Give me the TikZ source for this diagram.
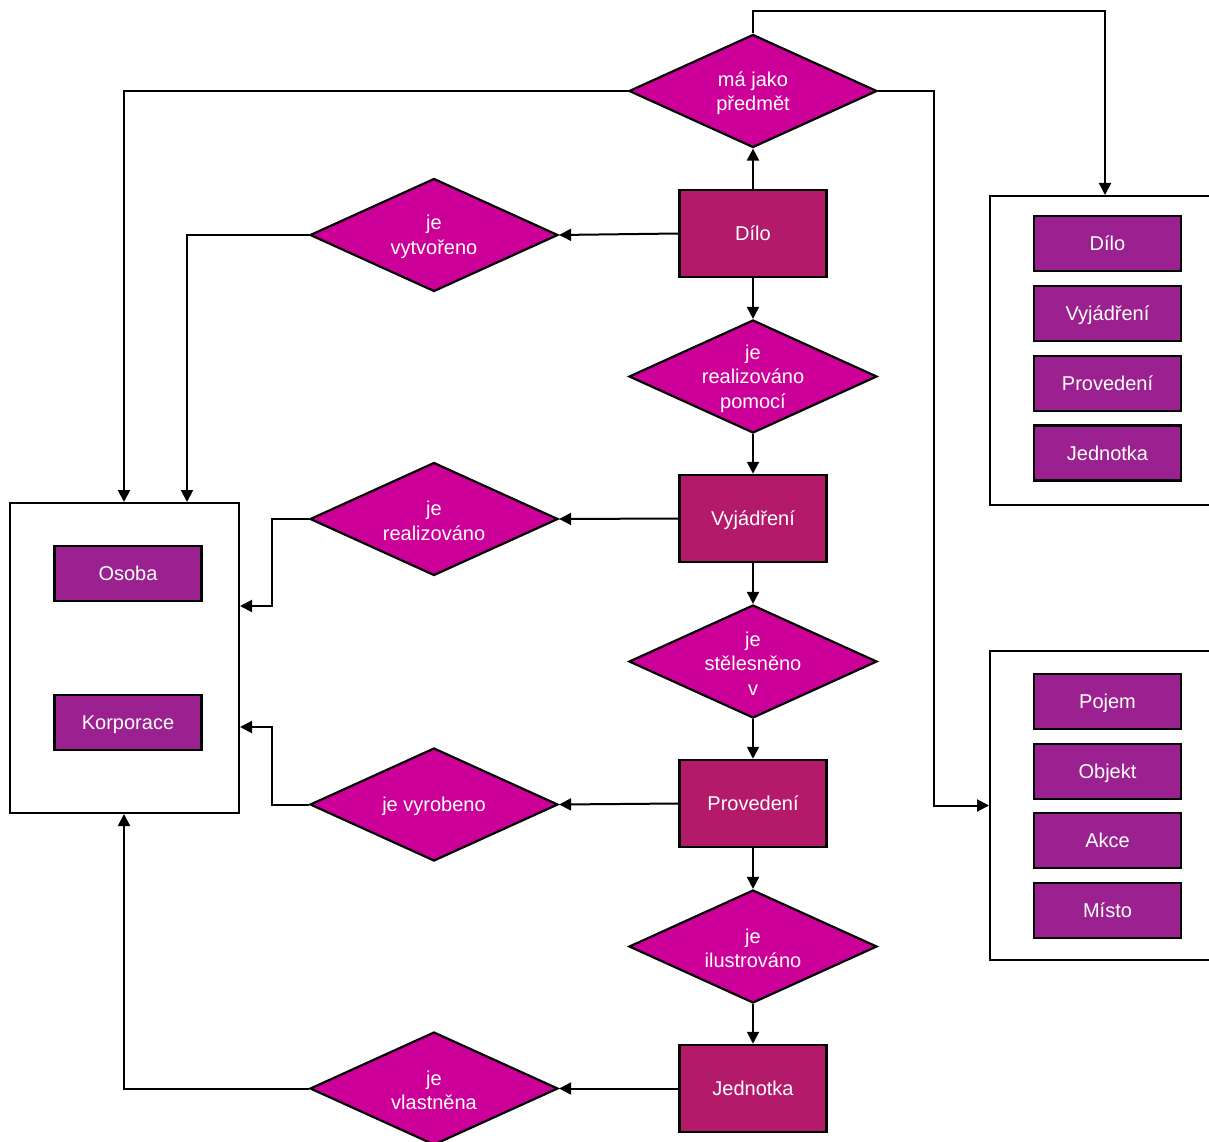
\documentclass[tikz,border=0pt]{standalone}
\usepackage{fontspec}
\setmainfont{Liberation Sans}
\usetikzlibrary{shapes.geometric,arrows.meta,calc}
\definecolor{relfill}{HTML}{CC0099}
\definecolor{mainfill}{HTML}{B41A6A}
\definecolor{itemfill}{HTML}{9C2190}
\begin{document}
\begin{tikzpicture}[x=1pt,y=-1pt,
  font=\fontsize{20}{24.5}\selectfont,
  rel/.style={shape=diamond, draw=black, line width=2.2pt, fill=relfill,
    minimum width=248pt, minimum height=113pt, inner sep=0pt},
  reltext/.style={text=white, align=center, inner sep=0pt, yshift=-2pt},
  mainbox/.style={rectangle, draw=black, line width=2.5pt, fill=mainfill,
    minimum width=147pt, minimum height=87pt, text=white,
    text height=14.4pt, text depth=0pt},
  itembox/.style={rectangle, draw=black, line width=2.5pt, fill=itemfill,
    minimum width=147pt, minimum height=55pt, text=white,
    text height=14.4pt, text depth=0pt},
  container/.style={rectangle, draw=black, line width=2pt, fill=white, inner sep=0pt},
  conn/.style={draw=black, line width=2pt, -{Triangle[length=12pt,width=12pt]}}
]
\clip (0,0) rectangle (1209,1142);
\fill[white] (0,0) rectangle (1209,1142);

% containers
\node[container, minimum width=229pt, minimum height=310pt] (lc) at (124.5,658) {};
\node[container, minimum width=230pt, minimum height=309pt] (rc1) at (1105,350.5) {};
\node[container, minimum width=230pt, minimum height=309pt] (rc2) at (1105,805.5) {};

% left container items
\node[itembox] (osoba) at (128,573.5) {Osoba};
\node[itembox] (korp) at (128,722.5) {Korporace};

% right container items
\node[itembox] (r1a) at (1107.5,243.5) {Dílo};
\node[itembox] (r1b) at (1107.5,313.5) {Vyjádření};
\node[itembox] (r1c) at (1107.5,383.5) {Provedení};
\node[itembox] (r1d) at (1107.5,453) {Jednotka};
\node[itembox] (r2a) at (1107.5,701.5) {Pojem};
\node[itembox] (r2b) at (1107.5,771.5) {Objekt};
\node[itembox] (r2c) at (1107.5,840.5) {Akce};
\node[itembox] (r2d) at (1107.5,910.5) {Místo};

% main entities
\node[mainbox] (dilo) at (753,233.5) {Dílo};
\node[mainbox] (vyj)  at (753,518.5) {Vyjádření};
\node[mainbox] (prov) at (753,803.5) {Provedení};
\node[mainbox] (jedn) at (753,1088.5) {Jednotka};

% relationships
\node[rel, label={[reltext]center:{má jako\\předmět}}] (d0) at (753,91) {};
\node[rel, label={[reltext]center:{je\\vytvořeno}}] (d1) at (434,235) {};
\node[rel, label={[reltext]center:{je\\realizováno\\pomocí}}] (d2) at (753,376.5) {};
\node[rel, label={[reltext]center:{je\\realizováno}}] (d3) at (434,519) {};
\node[rel, label={[reltext]center:{je\\stělesněno\\v}}] (d4) at (753,661.5) {};
\node[rel, label={[reltext]center:{je vyrobeno}}] (d5) at (434,804.5) {};
\node[rel, label={[reltext]center:{je\\ilustrováno}}] (d6) at (753,946.5) {};
\node[rel, label={[reltext]center:{je\\vlastněna}}] (d7) at (434,1088.5) {};

% main chain
\draw[conn] (dilo.north) -- (d0.south);
\draw[conn] (dilo.south) -- (d2.north);
\draw[conn] (d2.south) -- (vyj.north);
\draw[conn] (vyj.south) -- (d4.north);
\draw[conn] (d4.south) -- (prov.north);
\draw[conn] (prov.south) -- (d6.north);
\draw[conn] (d6.south) -- (jedn.north);

% entity to relationship
\draw[conn] (dilo.west) -- (d1.east);
\draw[conn] (vyj.west) -- (d3.east);
\draw[conn] (prov.west) -- (d5.east);
\draw[conn] (jedn.west) -- (d7.east);

% relationships to targets
\draw[conn] (d0.north) -- ++(0,-22) -| (rc1.north);
\draw[conn] (d0.west) -| ([xshift=115pt]lc.north west);
\draw[conn] (d0.east) -- ++(56,0) |- (rc2.west);
\draw[conn] (d1.west) -| ([xshift=178pt]lc.north west);
\draw[conn] (d3.west) -- ++(-37,0) |- ([yshift=52pt]lc.east);
\draw[conn] (d5.west) -- ++(-37,0) |- ([yshift=-69pt]lc.east);
\draw[conn] (d7.west) -| ([xshift=115pt]lc.south west);
\end{tikzpicture}
\end{document}
